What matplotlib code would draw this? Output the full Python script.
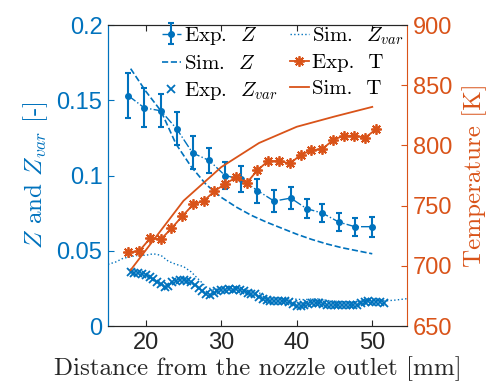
import numpy as np
import matplotlib
matplotlib.use("Agg")
import matplotlib.pyplot as plt

plt.rcParams["font.family"] = ["Liberation Sans", "DejaVu Sans"]
plt.rcParams["mathtext.fontset"] = "cm"

blue = "#0072BD"
orange = "#D95319"

# Experimental mixture fraction with error bars
exp_z_x = [17.7, 19.8, 22.0, 24.1, 26.2, 28.4, 30.5, 32.6, 34.8, 37.0,
           39.2, 41.3, 43.4, 45.6, 47.7, 49.9]
exp_z = [0.153, 0.145, 0.143, 0.131, 0.115, 0.110, 0.100, 0.0975, 0.090, 0.083,
         0.085, 0.078, 0.075, 0.069, 0.066, 0.066]
exp_z_err = [0.015, 0.013, 0.011, 0.011, 0.011, 0.008, 0.009, 0.0085, 0.008, 0.0075,
             0.0075, 0.0065, 0.006, 0.006, 0.006, 0.0067]

# Simulated mixture fraction
sim_z_x = [18, 20, 22, 24, 26, 28, 30, 32, 34, 36, 38, 40, 42, 44, 46, 48, 50]
sim_z = [0.171, 0.156, 0.143, 0.121, 0.106, 0.094, 0.0855, 0.079, 0.0735, 0.069,
         0.065, 0.061, 0.0575, 0.0545, 0.052, 0.050, 0.048]

# Experimental Z variance (dense profile)
exp_zvar_x = np.arange(18.0, 51.51, 0.5)
exp_zvar = [0.036, 0.0355, 0.035, 0.0345, 0.034, 0.0325, 0.031, 0.0295, 0.028, 0.026,
            0.0265, 0.029, 0.030, 0.0305, 0.0305, 0.030, 0.029, 0.027, 0.025, 0.023,
            0.021, 0.0205, 0.022, 0.0235, 0.024, 0.024, 0.0245, 0.024, 0.0245, 0.024,
            0.023, 0.022, 0.0215, 0.021, 0.0195, 0.018, 0.017, 0.0168, 0.0166, 0.0165,
            0.0165, 0.0163, 0.016, 0.0145, 0.0135, 0.0135, 0.014, 0.0145, 0.015, 0.0155,
            0.015, 0.0145, 0.014, 0.014, 0.014, 0.0138, 0.0138, 0.0138, 0.0138, 0.014,
            0.014, 0.015, 0.016, 0.0165, 0.0162, 0.016, 0.0158, 0.0155]

# Simulated Z variance
sim_zvar_x = list(range(15, 56))
sim_zvar = [0.041, 0.0425, 0.045, 0.046, 0.047, 0.047, 0.048, 0.047, 0.043, 0.041,
            0.0395, 0.036, 0.031, 0.026, 0.024, 0.025, 0.026, 0.026, 0.025, 0.023,
            0.022, 0.020, 0.019, 0.0185, 0.018, 0.0178, 0.0175, 0.018, 0.018, 0.017,
            0.0165, 0.0162, 0.016, 0.0162, 0.017, 0.0172, 0.017, 0.0168, 0.0172, 0.0178,
            0.0184]

# Experimental temperature
exp_t_x = [17.7, 19.1, 20.6, 22.0, 23.4, 24.8, 26.3, 27.7, 29.1, 30.5, 32.0, 33.4,
           34.8, 36.2, 37.7, 39.1, 40.5, 41.9, 43.4, 44.8, 46.2, 47.6, 49.1, 50.5]
exp_t = [711.5, 712, 723, 722, 731, 741, 751, 754, 762, 768, 773.5, 769,
         779.5, 787, 787, 785, 792, 796, 797, 804.5, 808, 808, 806.5, 813.5]

# Simulated temperature
sim_t_x = [18, 25, 30, 35, 40, 45, 50]
sim_t = [696.5, 754, 782, 802, 815.5, 824, 832]

fig = plt.figure(figsize=(4.9, 3.86), dpi=100)
ax = fig.add_axes([0.2204, 0.1554, 0.6102, 0.7798])
ax2 = ax.twinx()

h1 = ax.errorbar(exp_z_x, exp_z, yerr=exp_z_err, fmt=".-.", color=blue, lw=1.0,
                 ms=8, elinewidth=1.5, capsize=2.5, capthick=1.5)
h2, = ax.plot(sim_z_x, sim_z, "--", color=blue, lw=1.2)
h3, = ax.plot(exp_zvar_x, exp_zvar, "x", color=blue, ms=6, mew=1.3, ls="none")
h4, = ax.plot(sim_zvar_x, sim_zvar, ":", color=blue, lw=1.0)

h5, = ax2.plot(exp_t_x, exp_t, "-", color=orange, lw=1.3, marker=(8, 2, 0),
               ms=7.5, mew=1.3)
h6, = ax2.plot(sim_t_x, sim_t, "-", color=orange, lw=1.3)

ax.set_xlim(15, 54.6)
ax.set_ylim(0, 0.2)
ax2.set_ylim(650, 900)
ax.set_xticks([20, 30, 40, 50])
ax.set_yticks([0, 0.05, 0.1, 0.15, 0.2])
ax.set_yticklabels(["0", "0.05", "0.1", "0.15", "0.2"])
ax2.set_yticks([650, 700, 750, 800, 850, 900])

for a in (ax, ax2):
    a.tick_params(direction="in", labelsize=17, length=4, pad=4)
ax.tick_params(axis="x", top=True, colors="#262626")
ax.tick_params(axis="y", colors=blue)
ax2.tick_params(axis="y", colors=orange)
ax.spines["left"].set_color(blue)
ax2.spines["left"].set_color(blue)
ax2.spines["right"].set_color(orange)
ax.spines["right"].set_visible(False)
for s in ("top", "bottom"):
    ax.spines[s].set_color("#262626")
    ax2.spines[s].set_color("#262626")

ax.set_xlabel("Distance from the nozzle outlet [mm]", family="cmr10",
              fontsize=18, color="#262626", labelpad=2)
ax.set_ylabel("$Z$ and $Z_{var}$ [-]", family="cmr10", fontsize=18,
              color=blue, labelpad=5)
ax2.set_ylabel("Temperature [K]", family="cmr10", fontsize=18, color=orange,
               labelpad=7)

labels = ["Exp.  $Z$", "Sim.  $Z$", "Exp.  $Z_{var}$",
          "Sim.  $Z_{var}$", "Exp.  T", "Sim.  T"]
ax2.legend([h1, h2, h3, h4, h5, h6], labels, ncol=2, frameon=False,
           loc="upper left", bbox_to_anchor=(0.18, 1.0),
           prop={"family": "cmr10", "size": 15},
           handlelength=0.9, handletextpad=0.15, columnspacing=0.6,
           labelspacing=0.35, borderpad=0.0, borderaxespad=0.0)

fig.savefig("out.png", dpi=100)
